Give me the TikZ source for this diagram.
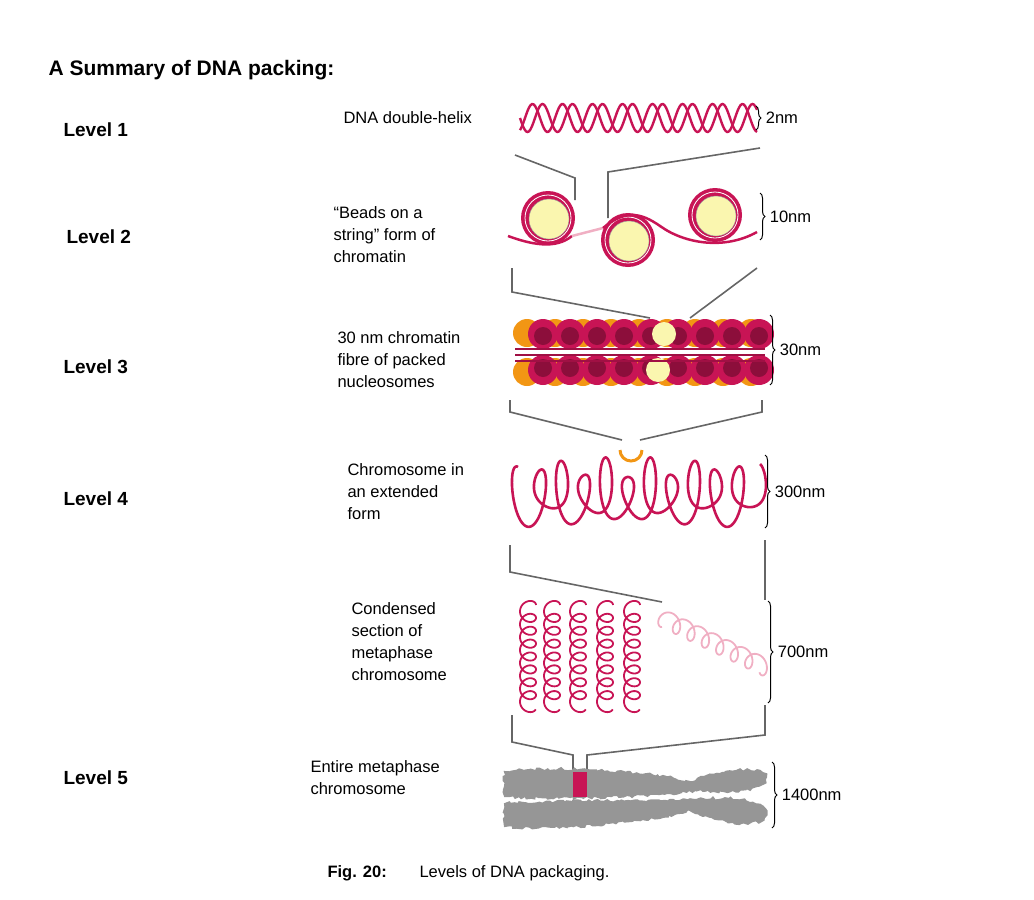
\documentclass[tikz,border=0pt]{standalone}
\usepackage{fontspec}
\setmainfont{Liberation Sans}
\usetikzlibrary{decorations.pathreplacing,decorations.pathmorphing}
\definecolor{dnared}{RGB}{200,20,85}
\definecolor{dnapink}{RGB}{240,175,195}
\definecolor{beadyel}{RGB}{250,246,175}
\definecolor{histor}{RGB}{242,150,20}
\definecolor{chromgray}{RGB}{150,150,150}
\tikzset{
  level/.style={anchor=west, font=\fontsize{19}{22}\selectfont\bfseries},
  descr/.style={anchor=north west, align=left, font=\fontsize{16.5}{22}\selectfont},
  size/.style={anchor=west, font=\fontsize{16.5}{20}\selectfont},
  funnel/.style={draw=black!60, line width=1.6pt},
  dna/.style={draw=dnared, line width=2.4pt},
  sizebrace/.style={draw, line width=1pt, decorate, decoration={brace, amplitude=5pt}}
}
\begin{document}
\begin{tikzpicture}[x=1pt, y=-1pt]
\useasboundingbox (0,0) rectangle (1034,900);

% Headings
\node[anchor=west, font=\fontsize{21}{24}\selectfont\bfseries] (title) at (45,70) {A Summary of DNA packing:};
\node[level] (lev1) at (60,130) {Level 1};
\node[level] (lev2) at (63,237) {Level 2};
\node[level] (lev3) at (60,367) {Level 3};
\node[level] (lev4) at (60,499) {Level 4};
\node[level] (lev5) at (60,778) {Level 5};

% Descriptions
\node[descr] (d1) at (340,108) {DNA double-helix};
\node[descr] (d2) at (330,203) {“Beads on a\\string” form of\\chromatin};
\node[descr] (d3) at (334,328) {30 nm chromatin\\fibre of packed\\nucleosomes};
\node[descr] (d4) at (344,460) {Chromosome in\\an extended\\form};
\node[descr] (d5) at (348,599) {Condensed\\section of\\metaphase\\chromosome};
\node[descr] (d6) at (307,757) {Entire metaphase\\chromosome};

% Caption
\node[anchor=west, font=\fontsize{16.5}{20}\selectfont\bfseries] (figno) at (324,873) {Fig. 20:};
\node[anchor=west, font=\fontsize{16.5}{20}\selectfont] (figtxt) at (416,873) {Levels of DNA packaging.};

% Level 1: double helix
\draw[dna] plot[domain=520:757, samples=160] (\x, {118+14*sin((\x-520)*12)});
\draw[dna] plot[domain=520:757, samples=160] (\x, {118+14*sin((\x-520)*12+120)});

% Funnel 1 -> 2
\draw[funnel] (515,155) -- (575,178) -- (575,200);
\draw[funnel] (760,148) -- (608,172) -- (608,218);

% Level 2: beads on a string
\foreach \bx/\by [count=\i] in {548/218, 628/240, 715/215} {
  \fill[dnared] (\bx,\by) circle (27);
  \draw[white, line width=0.8pt] (\bx,\by) circle (23);
  \fill[beadyel, draw=black!40] (\bx+1,\by+1) circle (20);
  \coordinate (bead\i) at (\bx,\by);
}
\draw[dnared, line width=2.5pt] (508,236) .. controls (530,244) and (555,250) .. (572,236);
\draw[dnapink, line width=2.5pt] (572,236) -- (603,228);
\draw[dnared, line width=2.5pt] (603,228) .. controls (625,210) and (640,212) .. (660,226)
  .. controls (685,244) and (725,250) .. (757,232);

% Funnel 2 -> 3
\draw[funnel] (512,268) -- (512,292) -- (650,318);
\draw[funnel] (757,268) -- (690,318);

% Level 3: 30 nm fibre
\foreach \i in {0,...,8} {
  \fill[histor] (527+28*\i,333) circle (14);
  \fill[histor] (527+28*\i,372) circle (14);
}
\foreach \i in {0,...,8} {
  \fill[dnared] (543+27*\i,334) circle (15);
  \fill[dnared!70!black] (543+27*\i,336) circle (9);
  \fill[dnared] (543+27*\i,370) circle (15);
  \fill[dnared!70!black] (543+27*\i,368) circle (9);
}
\fill[beadyel] (664,334) circle (12);
\fill[beadyel] (658,370) circle (12);
\foreach \yy in {349,355,361} \draw[dnared!80!black, line width=2.2pt] (515,\yy) -- (765,\yy);

% Funnel 3 -> 4
\draw[funnel] (510,400) -- (510,412) -- (622,440);
\draw[funnel] (762,400) -- (762,412) -- (640,440);
\draw[histor, line width=3pt] (620,450) arc (180:0:11);

% Level 4: extended chromosome
\draw[dna, line width=2.6pt] plot[domain=0:69.1, samples=600, smooth]
  ({518+3.5*\x-11*sin(\x r)}, {492-(25+10*sin(0.55*\x r))*cos(\x r)});

% Funnel 4 -> condensed
\draw[funnel] (510,545) -- (510,572) -- (662,602);
\draw[funnel] (765,540) -- (765,600);

% Condensed section
\foreach \cx in {528,552,578,605,632} {
  \draw[dna, line width=1.8pt] plot[domain=0:50, samples=300, smooth]
    ({\cx+8*cos(\x r)}, {605+2.05*\x-7*sin(\x r)});
}
\draw[draw=dnapink, line width=1.8pt] plot[domain=0:45, samples=300, smooth]
  ({662+2.3*\x-7*sin(\x r)}, {618+1.1*\x+9*cos(\x r)});

% Funnel condensed -> 5
\draw[funnel] (512,715) -- (512,742) -- (573,755) -- (573,772);
\draw[funnel] (765,705) -- (765,735) -- (587,755) -- (587,772);

% Level 5: metaphase chromosome
\tikzset{chromatid/.style={fill=chromgray, draw=chromgray, line width=2pt,
  decorate, decoration={random steps, segment length=3pt, amplitude=1.5pt}}}
\path[chromatid] (505,772) .. controls (560,766) and (650,772) .. (690,782)
  .. controls (720,770) and (760,765) .. (766,777) .. controls (768,790) and (730,793) .. (695,790)
  .. controls (650,797) and (560,799) .. (505,796) -- cycle;
\path[chromatid] (505,804) .. controls (560,800) and (650,802) .. (695,800)
  .. controls (730,797) and (768,800) .. (766,815) .. controls (760,828) and (720,824) .. (690,810)
  .. controls (650,822) and (560,830) .. (505,826) -- cycle;
\fill[dnared] (573,772) rectangle (587,797);

% Size braces
\draw[sizebrace] (756,106) -- (756,130) node[size, midway, xshift=6pt] (s1) {2nm};
\draw[sizebrace] (760,193) -- (760,240) node[size, midway, xshift=6pt] (s2) {10nm};
\draw[sizebrace] (770,315) -- (770,385) node[size, midway, xshift=6pt] (s3) {30nm};
\draw[sizebrace] (765,455) -- (765,528) node[size, midway, xshift=6pt] (s4) {300nm};
\draw[sizebrace] (768,601) -- (768,703) node[size, midway, xshift=6pt] (s5) {700nm};
\draw[sizebrace] (772,762) -- (772,828) node[size, midway, xshift=6pt] (s6) {1400nm};
\end{tikzpicture}
\end{document}
